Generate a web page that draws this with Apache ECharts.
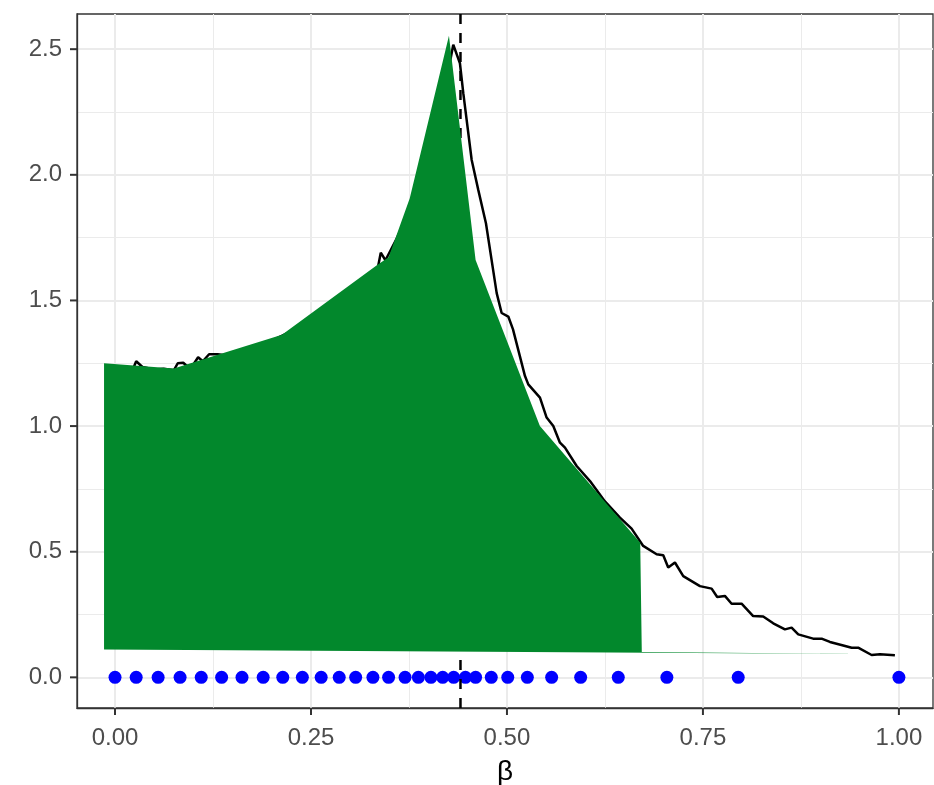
<!DOCTYPE html>
<html>
<head>
<meta charset="utf-8">
<script src="https://cdn.jsdelivr.net/npm/echarts@6/dist/echarts.min.js"></script>
<style>
  html, body { margin: 0; padding: 0; background: #fff; }
  #main { width: 934px; height: 785px; }
</style>
</head>
<body>
<div id="main"></div>
<script>
// tick positions
var xTicks = [0, 0.25, 0.5, 0.75, 1];
var xMinor = [0.125, 0.375, 0.625, 0.875];
var yTicks = [0, 0.5, 1, 1.5, 2, 2.5];
var yMinor = [0.25, 0.75, 1.25, 1.75, 2.25];

// black curve [beta, value]
var curve = [
  [0.024, 1.235], [0.027, 1.258], [0.035, 1.235], [0.05, 1.225], [0.062, 1.228],
  [0.075, 1.222], [0.080, 1.250], [0.087, 1.252], [0.092, 1.238], [0.100, 1.245],
  [0.106, 1.274], [0.112, 1.258], [0.120, 1.286], [0.131, 1.286], [0.145, 1.280],
  [0.16, 1.300], [0.18, 1.320], [0.20, 1.340], [0.22, 1.370], [0.24, 1.410],
  [0.26, 1.450], [0.28, 1.500], [0.30, 1.550], [0.32, 1.590], [0.335, 1.625],
  [0.339, 1.690], [0.345, 1.660], [0.36, 1.750], [0.37, 1.820], [0.38, 1.890],
  [0.39, 1.980], [0.40, 2.070], [0.41, 2.180], [0.42, 2.330], [0.4315, 2.518],
  [0.440, 2.444], [0.4443, 2.325], [0.455, 2.059], [0.4634, 1.940], [0.4732, 1.807],
  [0.4869, 1.529], [0.4932, 1.450], [0.5017, 1.436], [0.5077, 1.385], [0.523, 1.199],
  [0.5272, 1.166], [0.5421, 1.113], [0.5506, 1.034], [0.5591, 1.000], [0.5676, 0.934],
  [0.574, 0.914], [0.5889, 0.841], [0.6059, 0.781], [0.6250, 0.700], [0.6441, 0.636],
  [0.659, 0.592], [0.6738, 0.523], [0.6909, 0.490], [0.6994, 0.486], [0.7057, 0.437],
  [0.7143, 0.457], [0.7249, 0.403], [0.7462, 0.363], [0.7611, 0.353], [0.7682, 0.320],
  [0.778, 0.324], [0.7866, 0.293], [0.7993, 0.293], [0.8141, 0.244], [0.8269, 0.242],
  [0.8397, 0.215], [0.8546, 0.191], [0.8631, 0.198], [0.8716, 0.171], [0.8906, 0.154],
  [0.9014, 0.154], [0.912, 0.141], [0.929, 0.127], [0.9397, 0.118], [0.948, 0.118],
  [0.9652, 0.089], [0.9758, 0.092], [0.9949, 0.088]
];

// blue points on the axis
var dotBeta = [
  0, 0.027, 0.055, 0.083, 0.110, 0.136, 0.162, 0.189, 0.214, 0.239, 0.263,
  0.286, 0.307, 0.329, 0.349, 0.370, 0.387, 0.403, 0.418, 0.432, 0.447,
  0.460, 0.480, 0.501, 0.526, 0.557, 0.594, 0.642, 0.704, 0.795, 1.0
];

// green region outline [beta, value]
var greenPoly = [
  [-0.014, 1.250], [0.075, 1.229], [0.213, 1.363], [0.334, 1.640], [0.349, 1.672],
  [0.376, 1.907], [0.426, 2.553], [0.460, 1.661], [0.542, 1.000], [0.670, 0.536],
  [0.672, 0.101], [0.953, 0.093], [-0.014, 0.111]
];

var betaC = 0.4407;

var xMin = -0.0485, xMax = 1.0435;
var yMin = -0.122, yMax = 2.64;

var myChart = echarts.init(document.getElementById('main'));

var option = {
  animation: false,
  grid: {
    left: 77, right: 1, top: 14, bottom: 77,
    containLabel: false, outerBoundsMode: 'none',
    show: true, borderColor: '#333333', borderWidth: 1.3,
    backgroundColor: '#ffffff'
  },
  xAxis: [
    {
      type: 'value', min: xMin, max: xMax,
      name: 'β', nameLocation: 'middle', nameGap: 50,
      nameTextStyle: { fontSize: 28, color: '#000', fontFamily: 'Liberation Sans' },
      axisLine: { show: true, onZero: false, lineStyle: { color: '#333333', width: 1.3 } },
      axisTick: { show: false, customValues: xTicks },
      axisLabel: {
        customValues: xTicks, margin: 18, fontSize: 24, color: '#4d4d4d',
        fontFamily: 'Liberation Sans',
        formatter: function (v) { return v.toFixed(2); }
      },
      splitLine: { show: true, lineStyle: { color: '#ebebeb', width: 2 } }
    },
    {
      type: 'value', min: xMin, max: xMax, position: 'top',
      axisLine: { show: false, onZero: false },
      axisTick: { show: false, customValues: xMinor },
      axisLabel: { show: false, customValues: xMinor },
      splitLine: { show: true, lineStyle: { color: '#ebebeb', width: 1 } }
    }
  ],
  yAxis: [
    {
      type: 'value', min: yMin, max: yMax,
      axisLine: { show: true, onZero: false, lineStyle: { color: '#333333', width: 1.3 } },
      axisTick: { show: false, customValues: yTicks },
      axisLabel: {
        customValues: yTicks, margin: 15, fontSize: 24, color: '#4d4d4d',
        fontFamily: 'Liberation Sans',
        formatter: function (v) { return v.toFixed(1); }
      },
      splitLine: { show: true, lineStyle: { color: '#ebebeb', width: 2 } }
    },
    {
      type: 'value', min: yMin, max: yMax, position: 'right',
      axisLine: { show: false, onZero: false },
      axisTick: { show: false, customValues: yMinor },
      axisLabel: { show: false, customValues: yMinor },
      splitLine: { show: true, lineStyle: { color: '#ebebeb', width: 1 } }
    }
  ],
  series: [
    {
      type: 'line', data: curve, showSymbol: false, z: 2,
      lineStyle: { color: '#000000', width: 2.5 }
    },
    {
      type: 'scatter', data: dotBeta.map(function (b) { return [b, 0]; }),
      symbolSize: 13, z: 3,
      itemStyle: { color: '#0000ff', opacity: 1 }
    },
    {
      type: 'line', data: [[betaC, yMin], [betaC, yMax]], showSymbol: false, z: 4,
      lineStyle: { color: '#000000', width: 2.5, type: [10, 9] }
    },
    {
      type: 'custom', coordinateSystem: 'cartesian2d', z: 5,
      data: [[0, 0]],
      renderItem: function (params, api) {
        var pts = greenPoly.map(function (p) { return api.coord(p); });
        return { type: 'polygon', shape: { points: pts }, style: { fill: '#02882c' } };
      }
    }
  ]
};

myChart.setOption(option);

// outward tick marks, positioned from the axes' own scales
var ticks = [];
var bottomY = myChart.convertToPixel({ yAxisIndex: 0 }, yMin);
var leftX = myChart.convertToPixel({ xAxisIndex: 0 }, xMin);
xTicks.forEach(function (v) {
  var px = myChart.convertToPixel({ xAxisIndex: 0 }, v);
  ticks.push({
    type: 'line', z: 100,
    shape: { x1: px, y1: bottomY, x2: px, y2: bottomY + 7 },
    style: { stroke: '#333333', lineWidth: 2 }
  });
});
yTicks.forEach(function (v) {
  var py = myChart.convertToPixel({ yAxisIndex: 0 }, v);
  ticks.push({
    type: 'line', z: 100,
    shape: { x1: leftX - 7, y1: py, x2: leftX, y2: py },
    style: { stroke: '#333333', lineWidth: 2 }
  });
});
myChart.setOption({ graphic: { elements: ticks } });
</script>
</body>
</html>
